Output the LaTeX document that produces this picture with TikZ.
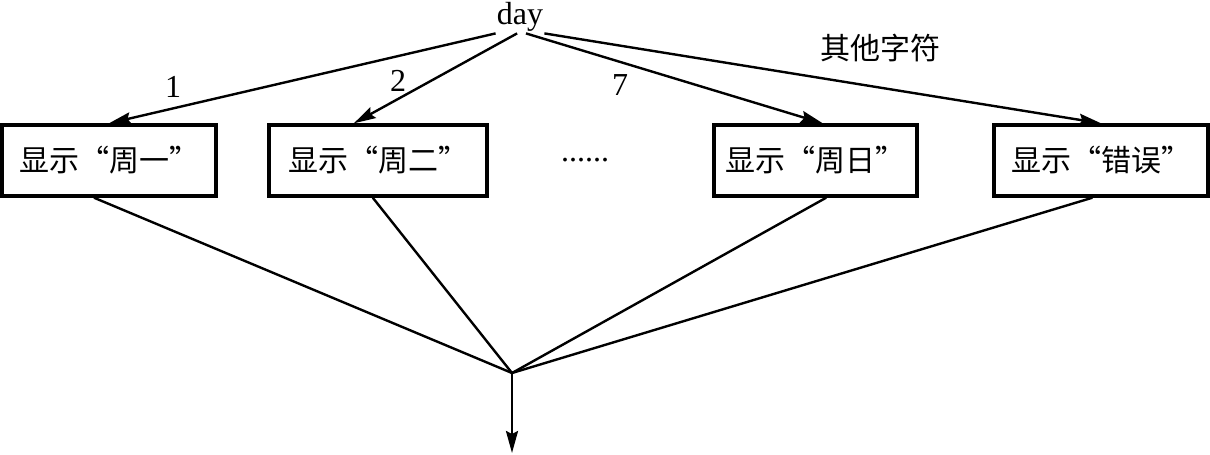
\documentclass[tikz,border=0pt]{standalone}
\usepackage{fontspec}
\setmainfont{Liberation Serif}
\newfontfamily\cjk{Noto Sans CJK SC}
\usetikzlibrary{arrows.meta}

\tikzset{
  box/.style={draw, line width=1.7pt, minimum width=107pt, minimum height=35.5pt,
    inner sep=0pt, font=\cjk\fontsize{15}{17}\selectfont},
  lbl/.style={font=\fontsize{16}{18}\selectfont, inner sep=0pt},
  arr/.style={line width=1.2pt, -{Stealth[length=11pt,width=6pt,inset=1.5pt]}},
  ln/.style={line width=1.2pt}
}

\begin{document}
\begin{tikzpicture}[x=0.5pt,y=-0.5pt]
\useasboundingbox (0,0) rectangle (1210,455);
\node[lbl, minimum width=24pt, minimum height=16pt] (day) at (520,17) {day};
\node[box] (b1) at (109,160.5) {显示“周一”};
\node[box, minimum width=109pt] (b2) at (378,160.5) {显示“周二”};
\node[lbl] (dots) at (585,160) {......};
\node[box, minimum width=101.5pt] (b3) at (815.5,160.5) {显示“周日”};
\node[box] (b4) at (1101,160.5) {显示“错误”};
\coordinate (m) at (512,373);
\coordinate (e) at (512,453);
% branches
\draw[arr] (day.south west) -- (b1.north);
\draw[arr] (day.260) -- (b2.123);
\draw[arr] (day.290) -- (b3.79);
\draw[arr] (day.south east) -- (b4.north);
\node[lbl] (n1) at (173,87) {1};
\node[lbl] (n2) at (398,81) {2};
\node[lbl] (n7) at (620,85) {7};
\node[lbl, font=\cjk\fontsize{15}{17}\selectfont] (other) at (880,48) {其他字符};
% join
\draw[ln] (b1.248) -- (m);
\draw[ln] (b2.262) -- (m);
\draw[ln] (b3.286) -- (m);
\draw[ln] (b4.257) -- (m);
\draw[arr] (m) -- (e);
\end{tikzpicture}
\end{document}
